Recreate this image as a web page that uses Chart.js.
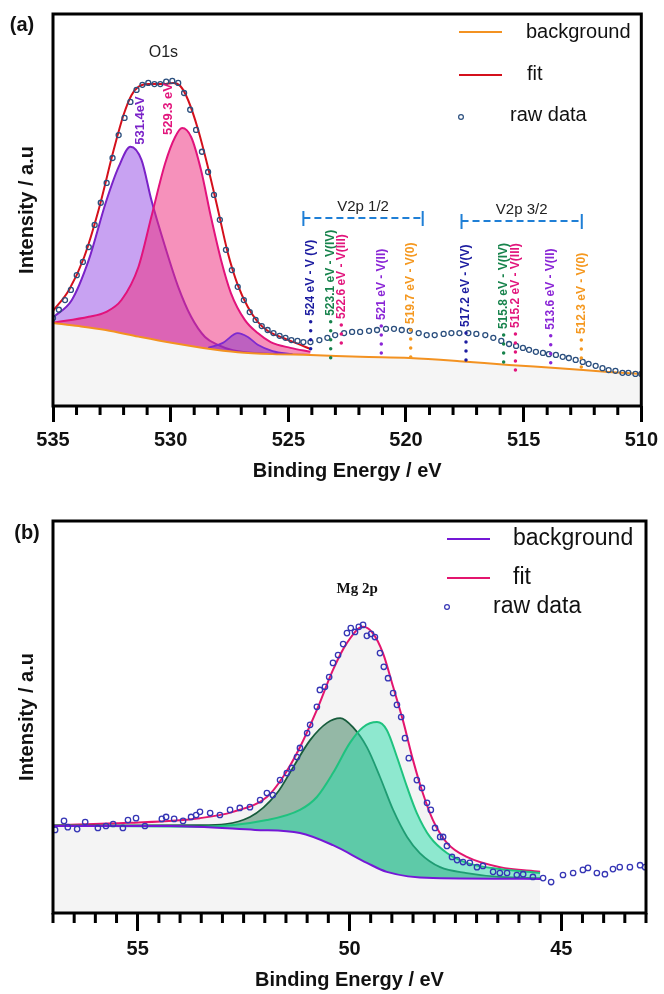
<!DOCTYPE html>
<html>
<head>
<meta charset="utf-8">
<script src="https://cdn.jsdelivr.net/npm/chart.js@4.4.1/dist/chart.umd.min.js"></script>
<style>
  html, body { margin: 0; padding: 0; background: #fff; }
  #wrap { position: relative; width: 664px; height: 994px; }
  canvas { position: absolute; left: 0; }
  #chartA { top: 0; }
  #chartB { top: 494px; }
</style>
</head>
<body>
<div id="wrap">
  <canvas id="chartA" width="664" height="494"></canvas>
  <canvas id="chartB" width="664" height="500"></canvas>
</div>
<script>
// ---- panel (a): O1s / V2p, [binding energy eV, intensity a.u.] ----
const rawA = [[535.00,21.6],[534.75,23.7],[534.49,26.2],[534.24,28.8],[533.99,32.6],[533.73,36.0],[533.48,39.8],[533.23,45.5],[532.97,51.2],[532.72,56.3],
  [532.47,62.7],[532.21,68.6],[531.96,73.0],[531.71,77.1],[531.45,80.2],[531.20,81.5],[530.95,82.0],[530.69,81.7],[530.44,81.7],[530.19,82.3],
  [529.93,82.5],[529.68,82.0],[529.43,79.4],[529.17,75.1],[528.92,69.9],[528.67,64.3],[528.41,59.1],[528.16,53.2],[527.91,46.8],[527.65,39.1],
  [527.40,33.9],[527.15,29.6],[526.89,26.2],[526.64,23.1],[526.39,21.1],[526.13,19.5],[525.88,18.5],[525.63,17.7],[525.37,17.0],[525.12,16.5],
  [524.87,15.9],[524.61,15.7],[524.36,15.4],[524.06,15.4],[523.68,15.9],[523.34,16.5],[523.01,17.2],[522.63,17.7],[522.29,18.0],[521.95,18.0],
  [521.57,18.3],[521.23,18.5],[520.85,18.8],[520.51,18.8],[520.18,18.5],[519.84,18.3],[519.46,17.7],[519.12,17.2],[518.78,17.2],[518.40,17.5],
  [518.07,17.7],[517.73,17.7],[517.35,17.7],[517.01,17.5],[516.63,17.2],[516.29,16.5],[515.95,15.7],[515.62,14.9],[515.32,14.4],[515.03,13.9],
  [514.77,13.4],[514.48,12.9],[514.18,12.6],[513.93,12.3],[513.63,12.1],[513.34,11.6],[513.08,11.3],[512.79,10.8],[512.49,10.3],[512.24,9.8],
  [511.94,9.3],[511.65,8.7],[511.39,8.2],[511.10,8.0],[510.80,7.5],[510.55,7.5],[510.25,7.2],[510.00,7.2]];

const fitA = [[535.00,23.4],[534.32,28.8],[533.69,37.0],[533.06,49.4],[532.42,64.8],[532.00,73.8],[531.66,78.9],[531.37,81.0],[530.95,81.7],
  [530.31,81.7],[529.89,82.0],[529.59,81.2],[529.26,77.6],[528.83,69.9],[528.41,60.2],[527.99,49.4],[527.57,38.3],[527.15,30.1],[526.72,24.4],
  [526.30,20.6],[525.88,18.3],[525.24,16.5],[524.61,15.0],[524.06,13.6]];

const bgA = [[535.00,20.3],[533.90,19.5],[532.76,18.5],[531.37,16.8],[529.97,15.2],[528.62,13.9],[527.15,12.8],[525.67,12.3],[524.06,12.1],
  [521.95,11.6],[519.84,11.3],[517.73,10.5],[515.62,9.5],[513.50,8.7],[511.39,7.7],[510.00,7.2]];

const peak531 = [[534.96,21.9],[534.20,26.2],[533.48,36.5],[532.76,51.2],[532.21,60.4],[531.71,65.6],[531.24,62.2],[530.82,51.9],[530.23,39.8],
  [529.68,29.6],[529.13,21.9],[528.54,16.7],[527.99,14.7],[527.36,13.3],[526.30,12.5],[525.03,12.2],[524.06,12.1]];

const peak529 = [[534.96,20.4],[533.48,21.9],[532.76,23.1],[532.09,26.2],[531.37,34.7],[530.82,47.6],[530.23,61.4],[529.81,68.1],[529.51,70.4],
  [529.13,68.1],[528.71,59.6],[528.29,47.6],[527.86,36.5],[527.44,28.0],[526.85,21.1],[526.30,17.7],[525.75,15.4],[524.91,13.9],[524.06,12.9]];

const peak527 = [[528.41,13.9],[527.78,15.2],[527.15,17.7],[526.72,16.7],[526.30,14.7],[525.67,13.1],[524.82,12.3]];

// V 2p reference positions
const markE = [524.05, 523.2, 522.75, 521.05, 519.8, 517.45, 515.85, 515.35, 513.85, 512.55];
const markTop = [20.6, 20.6, 19.8, 19.5, 18.5, 17.7, 17.2, 17.5, 17.0, 15.9];
const markBottom = [11.6, 11.3, 12.9, 11.3, 10.3, 9.0, 8.7, 7.5, 8.2, 7.7];
const markLabels = ['524 eV - V (V)', '523.1 eV - V(IV)', '522.6 eV - V(III)', '521 eV - V(II)', '519.7 eV - V(0)',
  '517.2 eV - V(V)', '515.8 eV - V(IV)', '515.2 eV - V(III)', '513.6 eV - V(II)', '512.3 eV - V(0)'];

const v2pNames = ['V2p 1/2', 'V2p 3/2'];
const v2pFrom = [524.36, 517.64];
const v2pTo = [519.29, 512.53];
const v2pLevel = [47.3, 46.5];

// ---- panel (b): Mg 2p ----
const rawB = [[56.95,21.2],[56.74,23.5],[56.65,21.9],[56.43,21.4],[56.24,23.2],[55.94,21.7],[55.75,22.2],[55.58,22.7],[55.35,21.7],[55.23,23.7],
  [55.04,24.2],[54.83,22.2],[54.43,24.0],[54.33,24.5],[54.14,24.0],[53.93,23.5],[53.74,24.5],[53.62,25.0],[53.53,25.8],[53.29,25.5],
  [53.06,25.0],[52.82,26.3],[52.59,26.8],[52.35,27.0],[52.11,28.8],[51.95,30.6],[51.81,30.1],[51.64,33.9],[51.48,35.7],[51.36,37.0],
  [51.24,39.8],[51.17,42.1],[51.00,45.9],[50.93,48.0],[50.77,52.6],[50.70,56.9],[50.58,57.7],[50.48,60.2],[50.39,63.8],[50.27,65.8],
  [50.15,68.6],[50.06,71.4],[49.97,72.7],[49.87,71.7],[49.78,73.0],[49.68,73.5],[49.59,70.7],[49.49,71.2],[49.40,70.4],[49.28,66.3],
  [49.19,62.8],[49.09,59.9],[48.97,56.1],[48.88,53.1],[48.78,50.0],[48.69,44.6],[48.60,39.5],[48.41,33.9],[48.29,31.9],[48.17,28.1],
  [48.08,26.3],[47.98,21.7],[47.86,19.4],[47.79,19.4],[47.70,17.1],[47.58,14.3],[47.46,13.5],[47.32,13.0],[47.16,12.8],[46.99,11.7],
  [46.85,12.0],[46.61,10.5],[46.45,10.2],[46.28,10.2],[46.05,9.7],[45.90,9.9],[45.67,9.2],[45.43,8.9],[45.24,7.9],[44.96,9.7],
  [44.72,10.2],[44.49,11.0],[44.37,11.5],[44.16,10.2],[43.97,9.9],[43.78,11.2],[43.62,11.7],[43.38,11.7],[43.14,12.2],[43.02,11.7]];

const fitB = [[57.00,22.4],[55.23,23.0],[53.53,24.2],[52.75,25.8],[51.95,29.6],[51.57,34.7],[51.17,42.3],[50.77,51.8],[50.39,62.0],[50.06,68.9],
  [49.68,73.0],[49.45,71.4],[49.21,66.3],[48.97,57.7],[48.74,49.2],[48.50,39.0],[48.27,30.6],[48.03,23.7],[47.70,17.9],[47.23,14.3],
  [46.45,11.7],[45.50,10.5]];

const bgB = [[57.00,22.2],[54.24,22.2],[52.23,21.2],[51.17,20.4],[50.39,17.3],[49.59,12.8],[49.12,10.5],[48.03,8.9],[45.50,8.7]];

const peakHigh = [[57.00,22.3],[53.53,22.4],[52.35,24.5],[51.71,30.6],[51.33,37.2],[50.93,44.1],[50.53,48.5],[50.22,49.7],[49.92,47.4],
  [49.59,42.3],[49.28,34.7],[48.97,26.3],[48.64,19.4],[48.34,15.3],[47.86,11.7],[47.23,10.2],[46.45,9.2],[45.50,8.9]];

const peakLow = [[57.00,22.3],[53.53,22.0],[51.95,23.7],[51.17,26.3],[50.77,29.6],[50.39,35.7],[49.99,43.4],[49.68,47.4],[49.35,48.7],
  [49.12,46.7],[48.88,39.8],[48.64,32.1],[48.41,25.5],[48.10,19.4],[47.70,15.3],[47.23,12.8],[46.45,11.2],[45.50,10.2]];

const legendLabels = ['background', 'fit', 'raw data'];

// ---------------------------------------------------------------
const FONT = 'Arial, "Liberation Sans", Helvetica, sans-serif';
Chart.defaults.font.family = FONT;
Chart.defaults.color = '#111';
Chart.defaults.animation = false;
Chart.defaults.events = [];
Chart.defaults.plugins.legend.display = false;
Chart.defaults.plugins.tooltip.enabled = false;

const pts = arr => arr.map(p => ({ x: p[0], y: p[1] }));

function curve(arr, color, extra) {
  return Object.assign({
    data: pts(arr), showLine: true, borderColor: color, borderWidth: 2,
    pointRadius: 0, fill: false, cubicInterpolationMode: 'monotone'
  }, extra || {});
}

// box, minor ticks, labels, legend
const decor = {
  id: 'decor',
  afterDraw(chart, args, o) {
    const { ctx, chartArea: a, scales: { x, y } } = chart;
    ctx.save();

    ctx.strokeStyle = '#000';
    ctx.lineWidth = 3;
    ctx.strokeRect(a.left, a.top, a.right - a.left, a.bottom - a.top);

    const n = Math.round((x.max - x.min) / o.minorStep);
    ctx.beginPath();
    for (let i = 0; i <= n; i++) {
      const v = x.min + i * o.minorStep;
      if (Math.abs(v / 5 - Math.round(v / 5)) < 1e-6) continue;
      const px = x.getPixelForValue(v);
      ctx.moveTo(px, a.bottom);
      ctx.lineTo(px, a.bottom + o.minorLen);
    }
    ctx.stroke();

    (o.notes || []).forEach(t => {
      const px = x.getPixelForValue(t.x);
      const py = y.getPixelForValue(t.y) - (t.gap || 0);
      ctx.font = t.font;
      ctx.fillStyle = t.color;
      ctx.textBaseline = 'middle';
      if (t.rot) {
        ctx.save();
        ctx.translate(px, py);
        ctx.rotate(-Math.PI / 2);
        ctx.textAlign = 'left';
        ctx.fillText(t.text, 0, 0);
        ctx.restore();
      } else {
        ctx.textAlign = 'center';
        ctx.fillText(t.text, px, py);
      }
    });

    (o.brackets || []).forEach(b => {
      const x0 = x.getPixelForValue(b.from), x1 = x.getPixelForValue(b.to);
      const py = y.getPixelForValue(b.level);
      ctx.strokeStyle = '#1f7fd6';
      ctx.lineWidth = 2;
      ctx.setLineDash([7, 4]);
      ctx.beginPath(); ctx.moveTo(x0, py); ctx.lineTo(x1, py); ctx.stroke();
      ctx.setLineDash([]);
      ctx.beginPath();
      ctx.moveTo(x0, py - 7); ctx.lineTo(x0, py + 8);
      ctx.moveTo(x1, py - 7); ctx.lineTo(x1, py + 8);
      ctx.stroke();
      ctx.font = '15px ' + FONT;
      ctx.fillStyle = '#222';
      ctx.textAlign = 'center';
      ctx.textBaseline = 'middle';
      ctx.fillText(b.name, (x0 + x1) / 2, py - 11);
    });

    (o.legend || []).forEach(it => {
      ctx.strokeStyle = it.color;
      if (it.kind === 'line') {
        ctx.lineWidth = 2;
        ctx.beginPath(); ctx.moveTo(it.x0, it.y); ctx.lineTo(it.x1, it.y); ctx.stroke();
      } else {
        ctx.lineWidth = 1.2;
        ctx.beginPath(); ctx.arc(it.x0, it.y, 2.4, 0, Math.PI * 2); ctx.stroke();
      }
      ctx.font = o.legendFont;
      ctx.fillStyle = '#111';
      ctx.textAlign = 'left';
      ctx.textBaseline = 'middle';
      ctx.fillText(it.label, it.tx, it.ty);
    });

    ctx.font = 'bold 20px ' + FONT;
    ctx.fillStyle = '#111';
    ctx.textAlign = 'center';
    ctx.textBaseline = 'middle';
    ctx.fillText(o.panel, o.panelX, o.panelY);
    ctx.restore();
  }
};

function xScale(min, max, tickLen, axisH, titlePad) {
  return {
    type: 'linear', reverse: true, min: min, max: max,
    ticks: { stepSize: 5, includeBounds: false, maxRotation: 0, padding: 6, color: '#111',
      font: { size: 20, weight: 'bold' } },
    grid: { drawOnChartArea: false, drawTicks: true, tickLength: tickLen, tickWidth: 3, tickColor: '#000' },
    border: { display: false },
    title: { display: true, text: 'Binding Energy / eV', color: '#111',
      font: { size: 20, weight: 'bold' }, padding: { top: 0, bottom: titlePad } },
    afterFit: s => { s.height = axisH; }
  };
}

function yScale(min, max) {
  return {
    min: min, max: max,
    ticks: { display: false },
    grid: { display: false },
    border: { display: false },
    title: { display: true, text: 'Intensity / a.u', color: '#111',
      font: { size: 20, weight: 'bold' }, padding: { top: 15, bottom: 0 } },
    afterFit: s => { s.width = 53; }
  };
}

// ---- chart (a) ----
const markColors = ['#1c1ca0', '#17834c', '#e2157c', '#8a26d6', '#f5981f'];
const markSets = markE.map((e, i) => ({
  data: [{ x: e, y: markTop[i] }, { x: e, y: markBottom[i] }],
  showLine: true, borderColor: markColors[i % 5], borderWidth: 3.5,
  borderDash: [0, 9], borderCapStyle: 'round', pointRadius: 0, tension: 0
}));
const BG_A = markSets.length + 2;

const notesA = [
  { text: 'O1s', x: 530.31, y: 89.7, color: '#222', font: '16px ' + FONT },
  { text: '531.4eV', x: 531.28, y: 66.1, color: '#7a22c8', font: 'bold 13px ' + FONT, rot: true },
  { text: '529.3 eV', x: 530.10, y: 68.6, color: '#e2157c', font: 'bold 13px ' + FONT, rot: true }
].concat(markE.map((e, i) => ({
  text: markLabels[i], x: e, y: markTop[i], gap: 6, color: markColors[i % 5],
  font: 'bold 12px ' + FONT, rot: true
})));

new Chart(document.getElementById('chartA'), {
  type: 'scatter',
  data: {
    datasets: markSets.concat([
      { data: pts(rawA), pointRadius: 2.5, pointBorderWidth: 1.3, pointBorderColor: '#2b4f7e',
        pointBackgroundColor: 'rgba(0,0,0,0)' },
      curve(fitA, '#d4101c'),
      curve(bgA, '#f39221', { fill: 'start', backgroundColor: '#f5f5f5' }),
      curve(peak527, '#7d2ad0', { fill: BG_A, backgroundColor: 'rgba(120,40,200,0.45)', borderWidth: 1.8 }),
      curve(peak529, '#e2137c', { fill: BG_A, backgroundColor: 'rgba(238,45,125,0.52)' }),
      curve(peak531, '#7a22c8', { fill: BG_A, backgroundColor: 'rgba(145,70,230,0.5)' })
    ])
  },
  options: {
    responsive: false,
    layout: { padding: { top: 14, right: 19, left: 0, bottom: 0 } },
    scales: { x: xScale(510, 535, 16, 88, 11), y: yScale(-1.03, 99.7) },
    plugins: {
      decor: {
        minorStep: 1, minorLen: 9,
        notes: notesA,
        brackets: v2pNames.map((nm, i) => ({ name: nm, from: v2pFrom[i], to: v2pTo[i], level: v2pLevel[i] })),
        legendFont: '20px ' + FONT,
        legend: [
          { kind: 'line', color: '#f39221', x0: 459, x1: 502, y: 32, label: legendLabels[0], tx: 526, ty: 32 },
          { kind: 'line', color: '#d4101c', x0: 459, x1: 502, y: 75, label: legendLabels[1], tx: 527, ty: 74 },
          { kind: 'dot', color: '#2b4f7e', x0: 461, y: 117, label: legendLabels[2], tx: 510, ty: 115 }
        ],
        panel: '(a)', panelX: 22, panelY: 25
      }
    }
  },
  plugins: [decor]
});

// ---- chart (b) ----
new Chart(document.getElementById('chartB'), {
  type: 'scatter',
  data: {
    datasets: [
      { data: pts(rawB), pointRadius: 2.7, pointBorderWidth: 1.3, pointBorderColor: '#3535b5',
        pointBackgroundColor: 'rgba(255,255,255,0)' },
      curve(bgB, '#7418d6'),
      curve(peakLow, '#1fc27f', { fill: 1, backgroundColor: 'rgba(40,220,170,0.5)' }),
      curve(peakHigh, '#175c3c', { fill: 1, backgroundColor: 'rgba(30,110,70,0.45)', borderWidth: 1.8 }),
      curve(fitB, '#e3156e', { fill: 'start', backgroundColor: '#f4f4f4' })
    ]
  },
  options: {
    responsive: false,
    layout: { padding: { top: 27, right: 18, left: 0, bottom: 0 } },
    scales: { x: xScale(43, 57, 18, 81, 2), y: yScale(0, 100) },
    plugins: {
      decor: {
        minorStep: 0.5, minorLen: 10,
        notes: [{ text: 'Mg 2p', x: 49.82, y: 82.7, color: '#111', font: 'bold 15px "Liberation Serif", "Times New Roman", serif' }],
        legendFont: '23px ' + FONT,
        legend: [
          { kind: 'line', color: '#7418d6', x0: 447, x1: 490, y: 45, label: legendLabels[0], tx: 513, ty: 45 },
          { kind: 'line', color: '#e3156e', x0: 447, x1: 490, y: 84, label: legendLabels[1], tx: 513, ty: 84 },
          { kind: 'dot', color: '#3535b5', x0: 447, y: 113, label: legendLabels[2], tx: 493, ty: 113 }
        ],
        panel: '(b)', panelX: 27, panelY: 39
      }
    }
  },
  plugins: [decor]
});
</script>
</body>
</html>
